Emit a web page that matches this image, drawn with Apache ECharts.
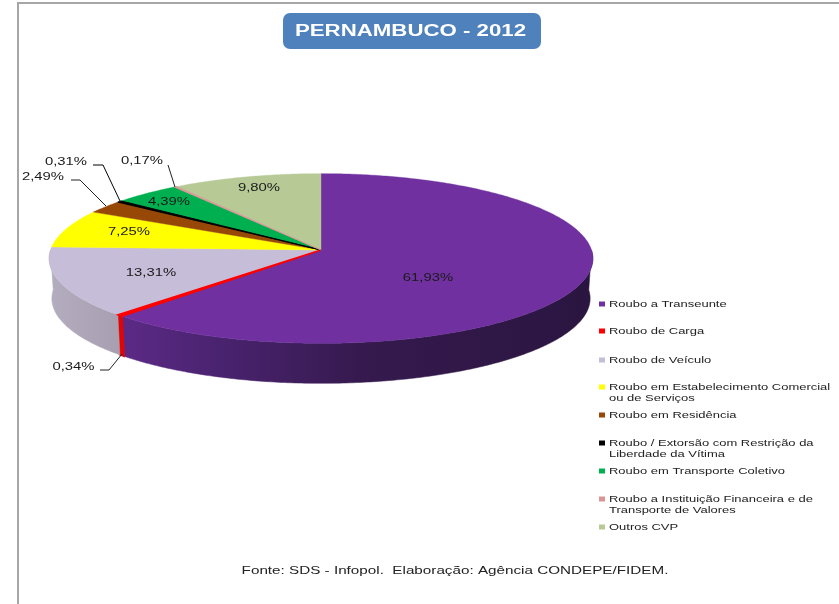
<!DOCTYPE html>
<html><head><meta charset="utf-8">
<style>html,body{margin:0;padding:0;background:#fff}#c{width:839px;height:604px}</style>
<script src="https://cdn.jsdelivr.net/npm/echarts@6/dist/echarts.min.js"></script>
</head><body><div id="c"></div>
<script>
const titleText = 'PERNAMBUCO - 2012';
const sourceText = 'Fonte: SDS - Infopol.  Elaboração: Agência CONDEPE/FIDEM.';
const categories = ['Roubo a Transeunte','Roubo de Carga','Roubo de Veículo','Roubo em Estabelecimento Comercial\nou de Serviços','Roubo em Residência','Roubo / Extorsão com Restrição da\nLiberdade da Vítima','Roubo em Transporte Coletivo','Roubo a Instituição Financeira e de\nTransporte de Valores','Outros CVP'];
const values = [61.93,0.34,13.31,7.25,2.49,0.31,4.39,0.17,9.80];
const colors = ['#7030A0','#FF0000','#C6BDD8','#FFFF00','#974706','#000000','#00B050','#D99694','#B7CA96'];

/* layout only */
const labelPos = [[428,278],[73.5,367],[151,273],[129,232],[43,177],[66,162],[169,202],[142,161],[259,188]];
const leaders = [null,[[100,370],[109,370],[122,354]],null,null,[[71,180],[80,180],[106,206]],[[93,165],[103,165],[120,201]],null,[[168,165],[175,187]],null];
const legendY = [304,331,360,387,415,443,471,499,527];
const thinStroke = {1:1.5,5:1,7:0.8};
const CX=321, CY=250, RX=270.5, RY=84, K=0.1, DEPTH=40;

function rim(deg, drop){
  const a=deg*Math.PI/180, s=Math.sin(a), c=Math.cos(a), w=1+K*c;
  const f = drop ? 0.99 : 1;
  return [CX+RX*f*s/w, CY-RY*c/w+(drop?DEPTH:0)];
}
function arc(a1,a2,drop){
  const n=Math.max(2,Math.ceil(Math.abs(a2-a1)*1.5)), p=[];
  for(let i=0;i<=n;i++) p.push(rim(a1+(a2-a1)*i/n,drop));
  return p;
}
const total = values.reduce((a,b)=>a+b,0);

function renderSlice(params, api){
  const i=params.dataIndex;
  let before=0; for(let j=0;j<i;j++) before+=values[j];
  const a1=before/total*360, a2=(before+values[i])/total*360;
  const children=[];
  const wa1=Math.max(a1,90), wa2=Math.min(a2,270);
  if(wa2>wa1){
    const top=arc(wa1,wa2,false), bot=arc(wa1,wa2,true).reverse();
    let fill=colors[i];
    if(i===0) fill=new echarts.graphic.LinearGradient(122,0,593,0,[{offset:0,color:'#5c2a86'},{offset:0.2,color:'#4a2370'},{offset:0.5,color:'#361a4f'},{offset:1,color:'#2a1540'}],true);
    if(i===1) fill='#e00606';
    if(i===2) fill=new echarts.graphic.LinearGradient(49,0,122,0,[{offset:0,color:'#b4adbf'},{offset:1,color:'#a79fb0'}],true);
    children.push({type:'polygon',z2:1,shape:{points:top.concat(bot)},style:{fill:fill,stroke:i===1?'#e00606':fill,lineWidth:i===1?1.5:0.5}});
  }
  const face=[[CX,CY]].concat(arc(a1,a2,false));
  const thin=thinStroke[i];
  children.push({type:'polygon',z2:thin?3:2,shape:{points:face},style:{fill:colors[i],stroke:colors[i],lineWidth:thin||0.4}});
  const L=labelPos[i];
  children.push({type:'text',z2:6,x:L[0],y:L[1],scaleX:1.35,style:{text:api.value(0).toFixed(2).replace('.',',')+'%',font:'11px "Liberation Sans"',fill:'#1a1a1a',align:'center',verticalAlign:'middle'}});
  if(leaders[i]) children.push({type:'polyline',z2:5,shape:{points:leaders[i]},style:{fill:'none',stroke:i===5?'#000':'#222',lineWidth:1}});
  return {type:'group',children};
}

const graphics=[
 {type:'rect',shape:{x:18,y:2,width:821,height:2},style:{fill:'#a6a6a6'},silent:true},
 {type:'rect',shape:{x:17,y:2,width:2,height:602},style:{fill:'#a6a6a6'},silent:true},
 {type:'rect',shape:{x:283,y:13,width:258,height:36,r:7},style:{fill:'#4F81BD'},silent:true},
 {type:'text',x:410.5,y:32,scaleX:1.39,style:{text:titleText,font:'bold 16px "Liberation Sans"',fill:'#fff',align:'center',verticalAlign:'middle'}},
 {type:'text',x:455,y:571,scaleX:1.385,style:{text:sourceText,font:'11px "Liberation Sans"',fill:'#222',align:'center',verticalAlign:'middle'}}
];
categories.forEach((name,i)=>{
  graphics.push({type:'rect',shape:{x:599,y:legendY[i]-2.5,width:6,height:5},style:{fill:colors[i]}});
  graphics.push({type:'text',x:609,y:legendY[i]-5,scaleX:1.44,style:{text:name,font:'9px "Liberation Sans"',lineHeight:11,fill:'#222',align:'left',verticalAlign:'top'}});
});

const chart=echarts.init(document.getElementById('c'),null,{renderer:'canvas'});
chart.setOption({
  animation:false,
  backgroundColor:'#fff',
  graphic:{elements:graphics},
  series:[{type:'custom',coordinateSystem:'none',renderItem:renderSlice,silent:true,
    data:categories.map((name,i)=>({name,value:[values[i]]}))}]
});
</script></body></html>
